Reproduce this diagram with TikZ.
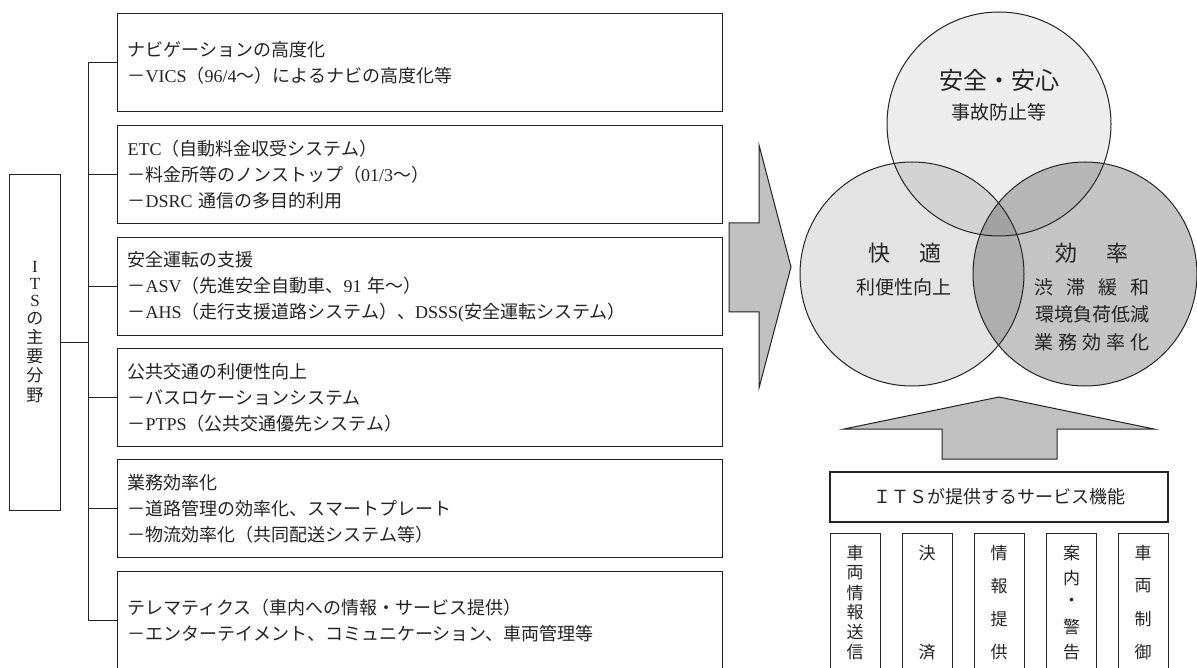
\documentclass[tikz,border=0pt]{standalone}
\usepackage{fontspec}
\setmainfont{Noto Sans CJK JP}
\newfontfamily\latserif{Liberation Serif}
\newcommand{\lat}[1]{{\latserif #1}}
\definecolor{ink}{RGB}{35,35,35}
\definecolor{arrowgray}{RGB}{192,192,192}
\begin{document}
\begin{tikzpicture}[x=1pt,y=-1pt,
  itembox/.style={draw=ink, line width=1.1pt, anchor=north west, minimum width=605pt,
    minimum height=98pt, text width=585pt, inner xsep=10pt, align=left,
    font=\fontsize{18}{26}\selectfont, text=ink},
  tree/.style={draw=ink, line width=1pt},
  plainbox/.style={draw=ink, line width=1.1pt, inner sep=0pt},
  vchar/.style={font=\fontsize{17}{17}\selectfont, text=ink, inner sep=0pt},
  latchar/.style={font=\latserif\fontsize{17}{17}\selectfont, text=ink, inner sep=0pt},
  venn/.style={circle, minimum size=224pt, inner sep=0pt, fill=black},
  circline/.style={draw=ink, line width=1pt},
  bigarrow/.style={draw=ink, line width=1pt, fill=arrowgray, line join=miter},
  ctext/.style={text=ink, inner sep=0pt}]
\useasboundingbox (0,0) rectangle (1197,668);

% ---------- left column ----------
\node[plainbox, anchor=north west, minimum width=51pt, minimum height=336pt] (its) at (9,174) {};
\foreach \c/\yy [count=\i] in {I/267,T/284,S/301}
  \node[latchar] (itsl\i) at (35,\yy) {\c};
\foreach \c/\yy [count=\i] in {の/319,主/337,要/356,分/375,野/395}
  \node[vchar] (itsc\i) at (35,\yy) {\c};

\node[itembox] (b1) at (117,13) {ナビゲーションの高度化\\－\lat{VICS}（\lat{96/4}～）によるナビの高度化等};
\node[itembox] (b2) at (117,125) {\lat{ETC}（自動料金収受システム）\\－料金所等のノンストップ（\lat{01/3}～）\\－\lat{DSRC} 通信の多目的利用};
\node[itembox] (b3) at (117,237) {安全運転の支援\\－\lat{ASV}（先進安全自動車、\lat{91} 年～）\\－\lat{AHS}（走行支援道路システム）、\lat{DSSS(}安全運転システム）};
\node[itembox] (b4) at (117,348) {公共交通の利便性向上\\－バスロケーションシステム\\－\lat{PTPS}（公共交通優先システム）};
\node[itembox] (b5) at (117,459) {業務効率化\\－道路管理の効率化、スマートプレート\\－物流効率化（共同配送システム等）};
\node[itembox] (b6) at (117,571) {テレマティクス（車内への情報・サービス提供）\\－エンターテイメント、コミュニケーション、車両管理等};

\coordinate (trunk) at (88,0);
\draw[tree] (b1.west) -- (b1.west -| trunk) -- (b6.west -| trunk) -- (b6.west);
\foreach \k in {2,...,5}
  \draw[tree] (b\k.west) -- (b\k.west -| trunk);
\draw[tree] (its.east) -- (its.east -| trunk);

% ---------- big right arrow ----------
\draw[bigarrow] (729,223) -- (759,223) -- (759,145) -- (791,267) -- (759,388) -- (759,312) -- (729,312) -- cycle;

% ---------- Venn circles ----------
\node[venn, fill opacity=0.07] (safe) at (999,124) {};
\node[venn, fill opacity=0.11] (comf) at (912,274) {};
\node[venn, fill opacity=0.23] (effi) at (1085,274) {};
\draw[circline] (safe.center) circle[radius=112pt];
\draw[circline] (comf.center) circle[radius=112pt];
\draw[circline] (effi.center) circle[radius=112pt];

\node[ctext, font=\fontsize{24}{24}\selectfont] (safeT) at (999,80) {安全・安心};
\node[ctext, font=\fontsize{19}{19}\selectfont] (safeS) at (999,112) {事故防止等};
\node[ctext, font=\fontsize{22}{22}\selectfont] (comfT) at (905,253) {快\hspace{30pt}適};
\node[ctext, font=\fontsize{19}{19}\selectfont] (comfS) at (904,287) {利便性向上};
\node[ctext, font=\fontsize{22}{22}\selectfont] (effiT) at (1092,253) {効\hspace{30pt}率};
\node[ctext, font=\fontsize{19}{19}\selectfont] (effiS1) at (1092,287) {渋\hspace{13pt}滞\hspace{13pt}緩\hspace{13pt}和};
\node[ctext, font=\fontsize{19}{19}\selectfont] (effiS2) at (1092,314) {環境負荷低減};
\node[ctext, font=\fontsize{19}{19}\selectfont] (effiS3) at (1092,342) {業\hspace{5pt}務\hspace{5pt}効\hspace{5pt}率\hspace{5pt}化};

% ---------- up arrow ----------
\draw[bigarrow] (942,459) -- (942,429) -- (844,429) -- (999,397) -- (1154,429) -- (1057,429) -- (1057,459) -- cycle;

% ---------- service functions ----------
\node[plainbox, minimum width=338pt, minimum height=50pt, font=\fontsize{18}{18}\selectfont, text=ink] (svc) at (999,497) {ＩＴＳが提供するサービス機能};

\foreach \xl [count=\i] in {830,902,974,1046,1118}
  \node[plainbox, anchor=north west, minimum width=50pt, minimum height=150pt] (v\i) at (\xl,533) {};

\foreach \c [count=\i] in {車,両,情,報,送,信}
  \node[vchar] (v1c\i) at (855,{553+(\i-1)*19.8}) {\c};
\node[vchar] (v2c1) at (927,553) {決};
\node[vchar] (v2c2) at (927,652) {済};
\foreach \c [count=\i] in {情,報,提,供}
  \node[vchar] (v3c\i) at (999,{553+(\i-1)*33}) {\c};
\foreach \c [count=\i] in {案,内,・,警,告}
  \node[vchar] (v4c\i) at (1071.5,{553+(\i-1)*24.75}) {\c};
\foreach \c [count=\i] in {車,両,制,御}
  \node[vchar] (v5c\i) at (1143,{553+(\i-1)*33}) {\c};
\end{tikzpicture}
\end{document}
